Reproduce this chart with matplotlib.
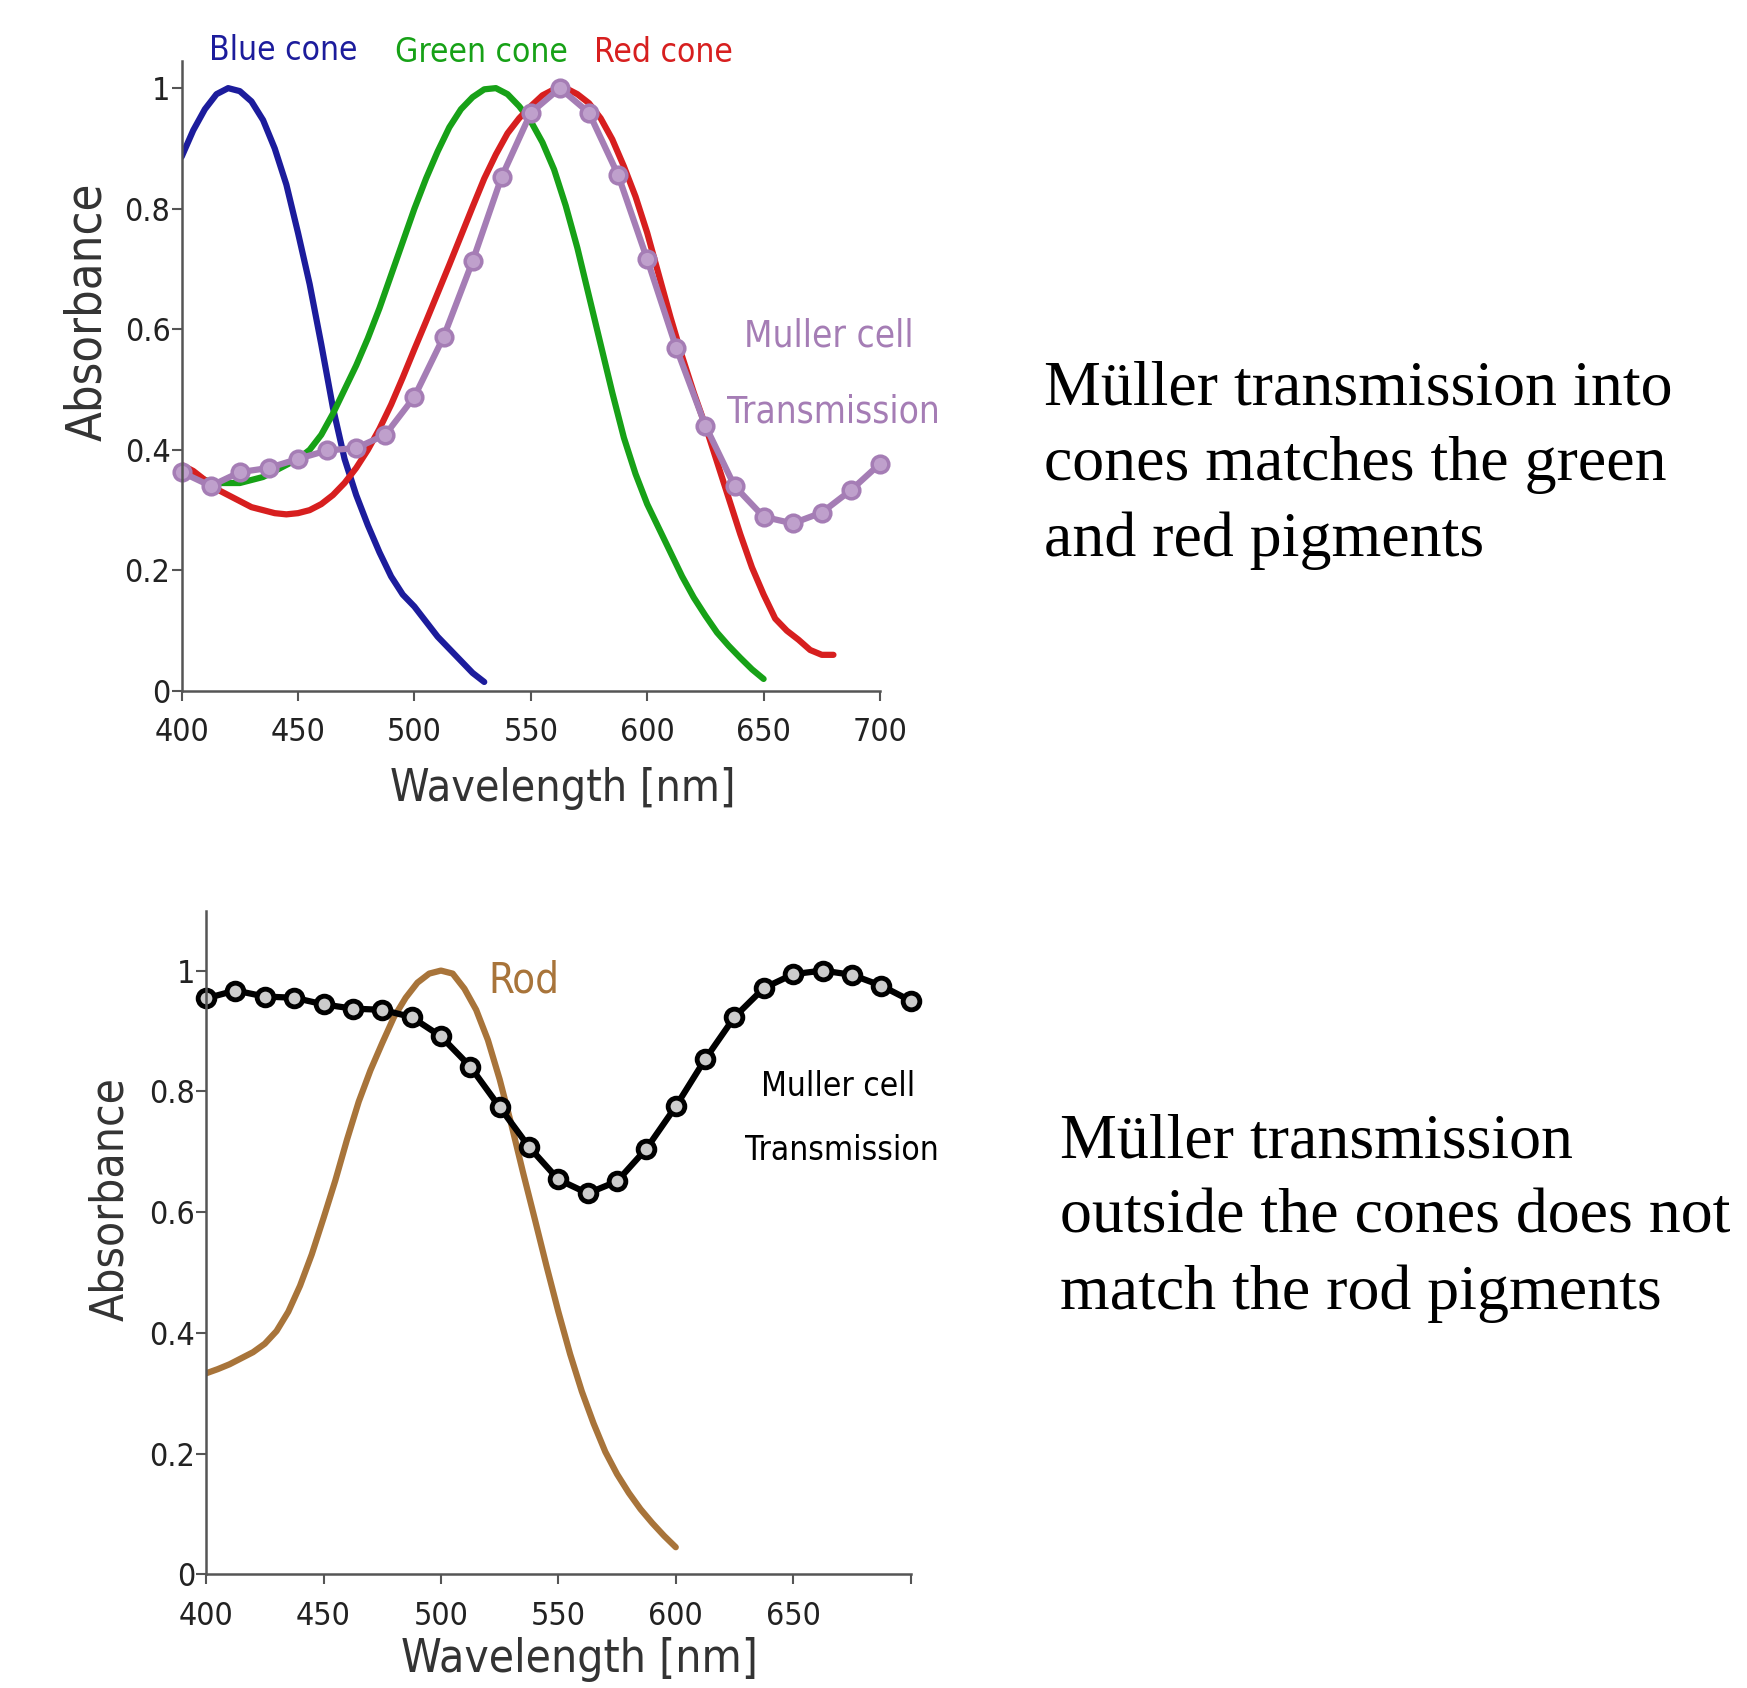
import matplotlib
matplotlib.use("Agg")
import matplotlib.pyplot as plt

# ---- data ----
blue_wl = list(range(400, 535, 5))
blue_cone = [0.886, 0.93, 0.965, 0.99, 1.0, 0.995, 0.978, 0.947, 0.90, 0.84,
             0.76, 0.675, 0.575, 0.47, 0.385, 0.325, 0.275, 0.23, 0.19, 0.16,
             0.14, 0.115, 0.09, 0.07, 0.05, 0.03, 0.015]

green_wl = list(range(400, 655, 5))
green_cone = [0.37, 0.36, 0.35, 0.345, 0.345, 0.345, 0.35, 0.355, 0.365, 0.375,
              0.385, 0.40, 0.425, 0.46, 0.50, 0.54, 0.585, 0.635, 0.69, 0.745,
              0.80, 0.85, 0.895, 0.935, 0.965, 0.985, 0.998, 1.0, 0.99, 0.97,
              0.945, 0.91, 0.865, 0.805, 0.735, 0.655, 0.575, 0.495, 0.42, 0.36,
              0.31, 0.27, 0.23, 0.19, 0.155, 0.125, 0.097, 0.075, 0.055, 0.036,
              0.02]

red_wl = list(range(400, 685, 5))
red_cone = [0.375, 0.365, 0.35, 0.335, 0.325, 0.315, 0.305, 0.30, 0.295, 0.293,
            0.295, 0.30, 0.31, 0.325, 0.345, 0.37, 0.40, 0.435, 0.475, 0.52,
            0.567, 0.613, 0.66, 0.707, 0.755, 0.803, 0.85, 0.89, 0.925, 0.95,
            0.97, 0.988, 0.998, 1.0, 0.99, 0.975, 0.95, 0.915, 0.87, 0.82,
            0.76, 0.69, 0.62, 0.555, 0.495, 0.44, 0.38, 0.32, 0.26, 0.205,
            0.16, 0.12, 0.10, 0.085, 0.068, 0.06, 0.06]

muller_wl = [400 + 12.5 * i for i in range(25)]
muller_cone = [0.363, 0.340, 0.363, 0.370, 0.385, 0.399, 0.403, 0.425, 0.488, 0.587,
               0.713, 0.853, 0.959, 1.0, 0.959, 0.856, 0.716, 0.569, 0.44, 0.340,
               0.289, 0.278, 0.296, 0.333, 0.377]

rod_wl = list(range(400, 605, 5))
rod = [0.333, 0.34, 0.348, 0.358, 0.368, 0.382, 0.403, 0.435, 0.478, 0.53,
       0.59, 0.652, 0.72, 0.783, 0.835, 0.88, 0.923, 0.955, 0.98, 0.995,
       1.0, 0.995, 0.97, 0.935, 0.885, 0.82, 0.745, 0.665, 0.588, 0.51,
       0.435, 0.365, 0.303, 0.25, 0.203, 0.166, 0.135, 0.108, 0.085, 0.064,
       0.045]

muller_rod = [0.954, 0.967, 0.957, 0.955, 0.944, 0.937, 0.935, 0.923, 0.891, 0.841,
              0.774, 0.708, 0.654, 0.631, 0.651, 0.705, 0.775, 0.853, 0.923, 0.971,
              0.994, 1.0, 0.993, 0.975, 0.950]

yticks = [0, 0.2, 0.4, 0.6, 0.8, 1]
ytick_labels = ["0", "0.2", "0.4", "0.6", "0.8", "1"]
xticks_top = [400, 450, 500, 550, 600, 650, 700]
xticks_bottom = [400, 450, 500, 550, 600, 650, 700]
xtick_labels_bottom = ["400", "450", "500", "550", "600", "650", ""]

note_top = "Müller transmission into\ncones matches the green\nand red pigments"
note_bottom = "Müller transmission\noutside the cones does not\nmatch the rod pigments"

# ---- styling ----
W, H = 1747, 1688
SANS = ["DejaVu Sans", "Open Sans"]
SERIF = ["Liberation Serif", "DejaVu Serif"]
BLUE = "#1c1c9c"
GREEN = "#17a117"
RED = "#d71f1f"
PURPLE = "#a57db5"
BROWN = "#a8743a"
SPINE = "#555555"


def px(x, y):
    return x / W, 1 - y / H


def label(x, y, s, size, color, **kw):
    fig.text(*px(x, y), s, ha="center", va="center", fontsize=size,
             family=SANS, stretch="condensed", color=color, **kw)


def style_axes(ax, ylim_top):
    for s in ["top", "right"]:
        ax.spines[s].set_visible(False)
    for s in ["left", "bottom"]:
        ax.spines[s].set_color(SPINE)
        ax.spines[s].set_linewidth(1.8)
    ax.set_xlim(400, 700)
    ax.set_ylim(0, ylim_top)
    ax.set_yticks(yticks)
    ax.set_yticklabels(ytick_labels)
    ax.tick_params(axis="both", length=7, width=1.5, color=SPINE,
                   labelsize=23, labelcolor="#222222")
    ax.tick_params(axis="y", pad=1)
    ax.tick_params(axis="x", pad=12)
    for lab in ax.get_xticklabels() + ax.get_yticklabels():
        lab.set_family(SANS)
        lab.set_stretch("condensed")


fig = plt.figure(figsize=(W / 100, H / 100), dpi=100)

# ---- top panel: cones ----
ax1 = fig.add_axes([181.6 / W, 1 - 691 / H, (880 - 181.6) / W, (691 - 61) / H])
ax1.plot(blue_wl, blue_cone, color=BLUE, lw=4.5, solid_capstyle="round")
ax1.plot(green_wl, green_cone, color=GREEN, lw=4.5, solid_capstyle="round")
ax1.plot(red_wl, red_cone, color=RED, lw=4.5, solid_capstyle="round")
ax1.plot(muller_wl, muller_cone, color=PURPLE, lw=4.5, marker="o", ms=12,
         mfc="#bfa0cc", mec=PURPLE, mew=2.5, clip_on=False)
ax1.set_xticks(xticks_top)
style_axes(ax1, 1.045)

label(87, 312, "Absorbance", 35, "#333333", rotation=90)
label(563, 789, "Wavelength [nm]", 32, "#333333")
label(283, 50, "Blue cone", 24, BLUE)
label(481, 52, "Green cone", 24, GREEN)
label(663, 53, "Red cone", 24, RED)
label(829, 336, "Muller cell", 26.5, PURPLE)
label(833, 412, "Transmission", 26.5, PURPLE)

# ---- bottom panel: rods ----
ax2 = fig.add_axes([206.1 / W, 1 - 1574.4 / H, (910.6 - 206.1) / W, (1574.4 - 911.4) / H])
ax2.plot(rod_wl, rod, color=BROWN, lw=4.5, solid_capstyle="round")
ax2.plot(muller_wl, muller_rod, color="black", lw=4.5, marker="o", ms=12,
         mfc="#cccccc", mec="black", mew=3.5, clip_on=False)
ax2.set_xticks(xticks_bottom)
ax2.set_xticklabels(xtick_labels_bottom)
style_axes(ax2, 1.098)

label(111, 1199, "Absorbance", 33, "#333333", rotation=90)
label(579, 1660, "Wavelength [nm]", 33, "#333333")
label(524, 980, "Rod", 30, BROWN)
label(838, 1086, "Muller cell", 24, "black")
label(842, 1151, "Transmission", 24, "black")

# ---- notes on the right ----
fig.text(*px(1044, 465), note_top, ha="left", va="center", fontsize=46,
         family=SERIF, linespacing=1.4, color="black")
fig.text(*px(1060, 1218), note_bottom, ha="left", va="center", fontsize=46,
         family=SERIF, linespacing=1.4, color="black")

fig.savefig("out.png", dpi=100)
